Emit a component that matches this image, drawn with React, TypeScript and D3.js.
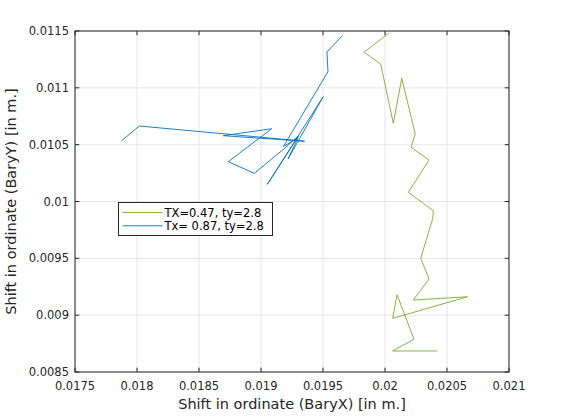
import React from "react";
import * as d3 from "d3";

const xTicks = [0.0175, 0.018, 0.0185, 0.019, 0.0195, 0.02, 0.0205, 0.021];
const yTicks = [0.0085, 0.009, 0.0095, 0.01, 0.0105, 0.011, 0.0115];
const xTickLabels = ["0.0175", "0.018", "0.0185", "0.019", "0.0195", "0.02", "0.0205", "0.021"];
const yTickLabels = ["0.0085", "0.009", "0.0095", "0.01", "0.0105", "0.011", "0.0115"];

const seriesNames = ["TX=0.47, ty=2.8", "Tx= 0.87, ty=2.8"];
const seriesColors = ["#77AC30", "#0072BD"];

const greenX = [0.02003, 0.019831, 0.019965, 0.020067, 0.020135, 0.020244, 0.02021, 0.020355, 0.020188, 0.02039, 0.020385, 0.020288, 0.020355, 0.020228, 0.020664, 0.020062, 0.020097, 0.020234, 0.020062, 0.020422];
const greenY = [0.01148, 0.011313, 0.01121, 0.010688, 0.011084, 0.010594, 0.010477, 0.010365, 0.010081, 0.009919, 0.009852, 0.0095, 0.009318, 0.009133, 0.009162, 0.008972, 0.00918, 0.008788, 0.008685, 0.008685];

const blueX = [0.017873, 0.018019, 0.019352, 0.018696, 0.019086, 0.018736, 0.018946, 0.019194, 0.019306, 0.019051, 0.019502, 0.019218, 0.019298, 0.019181, 0.01954, 0.019532, 0.019656];
const blueY = [0.010532, 0.010664, 0.01053, 0.010579, 0.01064, 0.01035, 0.010248, 0.010471, 0.010581, 0.010151, 0.010922, 0.010374, 0.010559, 0.010484, 0.011142, 0.011315, 0.011459];

const W = 564;
const H = 418;
const M = { left: 75, right: 509, top: 31, bottom: 372 };
const FONT = "DejaVu Sans, sans-serif";
const AX = "#262626";

export default function App() {
  const x = d3.scaleLinear().domain([0.0175, 0.021]).range([M.left, M.right]);
  const y = d3.scaleLinear().domain([0.0085, 0.0115]).range([M.bottom, M.top]);
  const line = d3
    .line<[number, number]>()
    .x((d) => x(d[0]))
    .y((d) => y(d[1]));
  const green = greenX.map((v, i) => [v, greenY[i]] as [number, number]);
  const blue = blueX.map((v, i) => [v, blueY[i]] as [number, number]);
  const tl = 4.3;
  const lgX = 118.5;
  const lgY = 202.5;
  return (
    <svg width={W} height={H} style={{ position: "absolute", left: 0, top: 0, background: "#fff" }}>
      <rect x={0} y={0} width={W} height={H} fill="#fff" />
      <rect x={M.left} y={M.top} width={M.right - M.left} height={M.bottom - M.top} fill="#fff" />
      {xTicks.map((t, i) => (
        <line key={"gx" + i} x1={x(t)} x2={x(t)} y1={M.top} y2={M.bottom} stroke="#dfdfdf" strokeWidth={0.8} />
      ))}
      {yTicks.map((t, i) => (
        <line key={"gy" + i} x1={M.left} x2={M.right} y1={y(t)} y2={y(t)} stroke="#dfdfdf" strokeWidth={0.8} />
      ))}
      <defs>
        <clipPath id="clip">
          <rect x={M.left} y={M.top} width={M.right - M.left} height={M.bottom - M.top} />
        </clipPath>
      </defs>
      <g clipPath="url(#clip)">
        <path d={line(green) || ""} fill="none" stroke={seriesColors[0]} strokeWidth={0.9} strokeLinejoin="round" />
        <path d={line(blue) || ""} fill="none" stroke={seriesColors[1]} strokeWidth={0.9} strokeLinejoin="round" />
      </g>
      <rect x={M.left} y={M.top} width={M.right - M.left} height={M.bottom - M.top} fill="none" stroke={AX} strokeWidth={1} />
      {xTicks.map((t, i) => (
        <g key={"tx" + i}>
          <line x1={x(t)} x2={x(t)} y1={M.bottom} y2={M.bottom - tl} stroke={AX} />
          <line x1={x(t)} x2={x(t)} y1={M.top} y2={M.top + tl} stroke={AX} />
          <text x={x(t)} y={M.bottom + 18} textAnchor="middle" fontFamily={FONT} fontSize={11.5} fill={AX}>
            {xTickLabels[i]}
          </text>
        </g>
      ))}
      {yTicks.map((t, i) => (
        <g key={"ty" + i}>
          <line x1={M.left} x2={M.left + tl} y1={y(t)} y2={y(t)} stroke={AX} />
          <line x1={M.right} x2={M.right - tl} y1={y(t)} y2={y(t)} stroke={AX} />
          <text x={M.left - 6} y={y(t) + 4} textAnchor="end" fontFamily={FONT} fontSize={11.5} fill={AX}>
            {yTickLabels[i]}
          </text>
        </g>
      ))}
      <text x={(M.left + M.right) / 2} y={409} textAnchor="middle" fontFamily={FONT} fontSize={14.5} fill={AX}>
        Shift in ordinate (BaryX) [in m.]
      </text>
      <text
        transform={`translate(16,${(M.top + M.bottom) / 2}) rotate(-90)`}
        textAnchor="middle"
        fontFamily={FONT}
        fontSize={14.5}
        fill={AX}
      >
        Shift in ordinate (BaryY) [in m.]
      </text>
      <g>
        <rect x={lgX} y={lgY} width={154} height={33} fill="#fff" stroke={AX} strokeWidth={1} />
        {seriesNames.map((n, i) => (
          <g key={"lg" + i}>
            <line x1={lgX + 4} x2={lgX + 44} y1={lgY + 10 + i * 13.3} y2={lgY + 10 + i * 13.3} stroke={seriesColors[i]} strokeWidth={0.9} />
            <text x={lgX + 46} y={lgY + 14 + i * 13.3} fontFamily={FONT} fontSize={11.5} fill="#000">
              {n}
            </text>
          </g>
        ))}
      </g>
    </svg>
  );
}
